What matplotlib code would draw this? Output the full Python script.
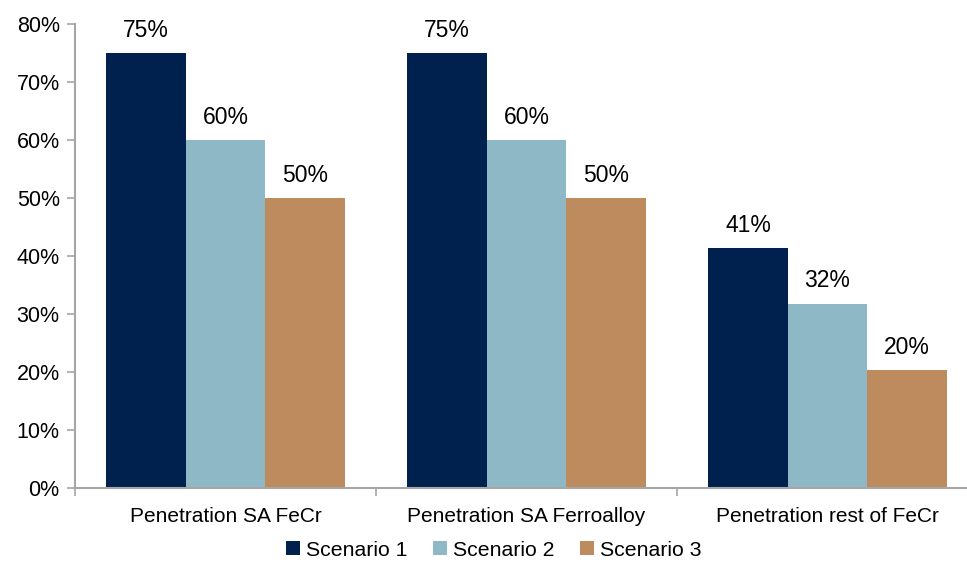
import matplotlib
matplotlib.use("Agg")
import matplotlib.pyplot as plt
import numpy as np

categories = ["Penetration SA FeCr", "Penetration SA Ferroalloy", "Penetration rest of FeCr"]
series_names = ["Scenario 1", "Scenario 2", "Scenario 3"]
scenario1 = [0.75, 0.75, 0.414]
scenario2 = [0.60, 0.60, 0.318]
scenario3 = [0.50, 0.50, 0.204]
y_ticks = [0, 0.1, 0.2, 0.3, 0.4, 0.5, 0.6, 0.7, 0.8]
y_tick_labels = ["0%", "10%", "20%", "30%", "40%", "50%", "60%", "70%", "80%"]

colors = ["#00214d", "#8fb8c7", "#be8b5e"]
plt.rcParams['font.family'] = ['Liberation Sans', 'DejaVu Sans']

fig = plt.figure(figsize=(9.67, 5.62), dpi=100)
ax = fig.add_axes([75/967, 74/562, 903/967, 464/562])

x = np.arange(len(categories))
w = 0.264
gray = "#a6a6a6"
for i, (vals, name, c) in enumerate(zip([scenario1, scenario2, scenario3], series_names, colors)):
    pos = x + (i - 1) * w
    bars = ax.bar(pos, vals, width=w, color=c, label=name, zorder=2)
    for b, v in zip(bars, vals):
        ax.annotate(f"{round(v*100):d}%", (b.get_x() + b.get_width()/2, v),
                    xytext=(0, 8), textcoords="offset points",
                    ha="center", va="bottom", fontsize=16.5, color="black")

ax.set_xlim(-0.5, len(categories) - 0.5)
ax.set_ylim(0, 0.8)
ax.set_yticks(y_ticks)
ax.set_yticklabels(y_tick_labels, fontsize=15.5)
ax.set_xticks(x)
ax.set_xticklabels(categories, fontsize=15)
ax.set_xticks(np.arange(len(categories) + 1) - 0.5, minor=True)
ax.tick_params(axis="x", which="major", length=0, pad=14)
ax.tick_params(axis="x", which="minor", length=6, color=gray, width=1.2)
ax.tick_params(axis="y", length=6, color=gray, width=1.2, pad=5)

for s in ["top", "right"]:
    ax.spines[s].set_visible(False)
for s in ["left", "bottom"]:
    ax.spines[s].set_color(gray)
    ax.spines[s].set_linewidth(1.5)

leg = fig.legend(loc="center", bbox_to_anchor=(494/967, 1 - 550/562), ncol=3,
                 frameon=False, fontsize=15.3, handlelength=0.65, handleheight=0.65,
                 handletextpad=0.3, columnspacing=1.2)

fig.savefig("out.png", dpi=100)
